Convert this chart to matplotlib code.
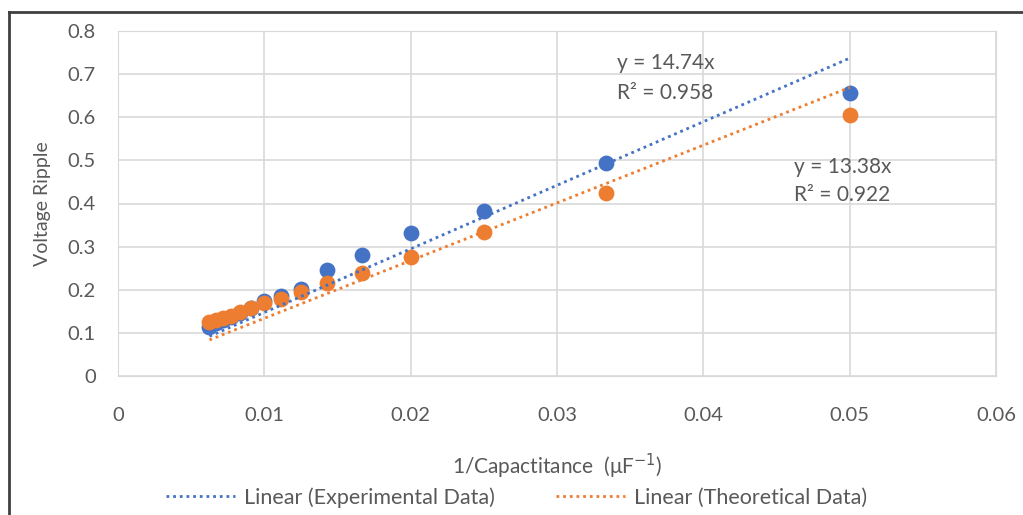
import matplotlib.pyplot as plt
import numpy as np
from matplotlib.lines import Line2D
from matplotlib.ticker import FuncFormatter

plt.rcParams['font.family'] = ['Lato', 'DejaVu Sans']

# 1/C for C = 20..160 uF
inv_cap = [1/20, 1/30, 1/40, 1/50, 1/60, 1/70, 1/80, 1/90,
           1/100, 1/110, 1/120, 1/130, 1/140, 1/150, 1/160]
exp_ripple = [0.657, 0.494, 0.383, 0.332, 0.281, 0.246, 0.202, 0.186,
              0.174, 0.158, 0.146, 0.137, 0.130, 0.123, 0.114]
theo_ripple = [0.606, 0.425, 0.334, 0.276, 0.239, 0.216, 0.195, 0.179,
               0.169, 0.158, 0.148, 0.139, 0.135, 0.130, 0.125]
exp_slope, exp_r2 = 14.74, 0.958
theo_slope, theo_r2 = 13.38, 0.922

blue = '#4472C4'
orange = '#ED7D31'
grey = '#595959'

fig = plt.figure(figsize=(10.23, 5.15), dpi=100)
ax = fig.add_axes([118/1023, 1-376/515, (996-118)/1023, (376-31)/515])

ax.scatter(inv_cap, exp_ripple, s=130, color=blue, zorder=3, linewidths=0)
ax.scatter(inv_cap, theo_ripple, s=130, color=orange, zorder=4, linewidths=0)

xs = np.array([min(inv_cap), max(inv_cap)])
dots = (0, (1, 1.4))
ax.plot(xs, exp_slope*xs, color=blue, lw=2, ls=dots, zorder=5)
ax.plot(xs, theo_slope*xs, color=orange, lw=2, ls=dots, zorder=5)

lbl = dict(fontsize=15, color=grey, va='center')
ax.text(0.0341, 0.726, f"y = {exp_slope}x", **lbl)
ax.text(0.0341, 0.657, f"R² = {exp_r2}", **lbl)
ax.text(0.0462, 0.485, f"y = {theo_slope}x", **lbl)
ax.text(0.0462, 0.420, f"R² = {theo_r2}", **lbl)

ax.set_xlim(0, 0.06)
ax.set_ylim(0, 0.8)
ax.set_xticks(np.arange(0, 0.061, 0.01))
ax.set_yticks(np.arange(0, 0.81, 0.1))
fmt = FuncFormatter(lambda v, p: f"{round(v, 3):g}")
ax.xaxis.set_major_formatter(fmt)
ax.yaxis.set_major_formatter(fmt)
ax.tick_params(length=0, labelsize=14.5, colors=grey)
ax.tick_params(axis='x', pad=22)
ax.tick_params(axis='y', pad=16)
ax.grid(color='#D9D9D9', lw=1.2)
ax.set_axisbelow(True)
for s in ax.spines.values():
    s.set_color('#D9D9D9')

ax.set_xlabel("1/Capactitance  (μF$^{-1}$)", fontsize=15, color=grey, labelpad=20)
ax.set_ylabel("Voltage Ripple", fontsize=14, color=grey, labelpad=12)

handles = [Line2D([], [], color=blue, lw=2, ls=dots),
           Line2D([], [], color=orange, lw=2, ls=dots)]
fig.legend(handles, ["Linear (Experimental Data)", "Linear (Theoretical Data)"],
           loc='center', bbox_to_anchor=(0.505, 0.034), ncol=2, frameon=False,
           fontsize=15.5, labelcolor=grey, handlelength=3.2, handletextpad=0.45,
           columnspacing=2.8)

# outer chart frame
fig.add_artist(Line2D([9/1023, 9/1023], [0, 1-12/515], color='#404040', lw=2))
fig.add_artist(Line2D([9/1023, 1], [1-12/515, 1-12/515], color='#404040', lw=2))

fig.savefig('out.png', dpi=100)
